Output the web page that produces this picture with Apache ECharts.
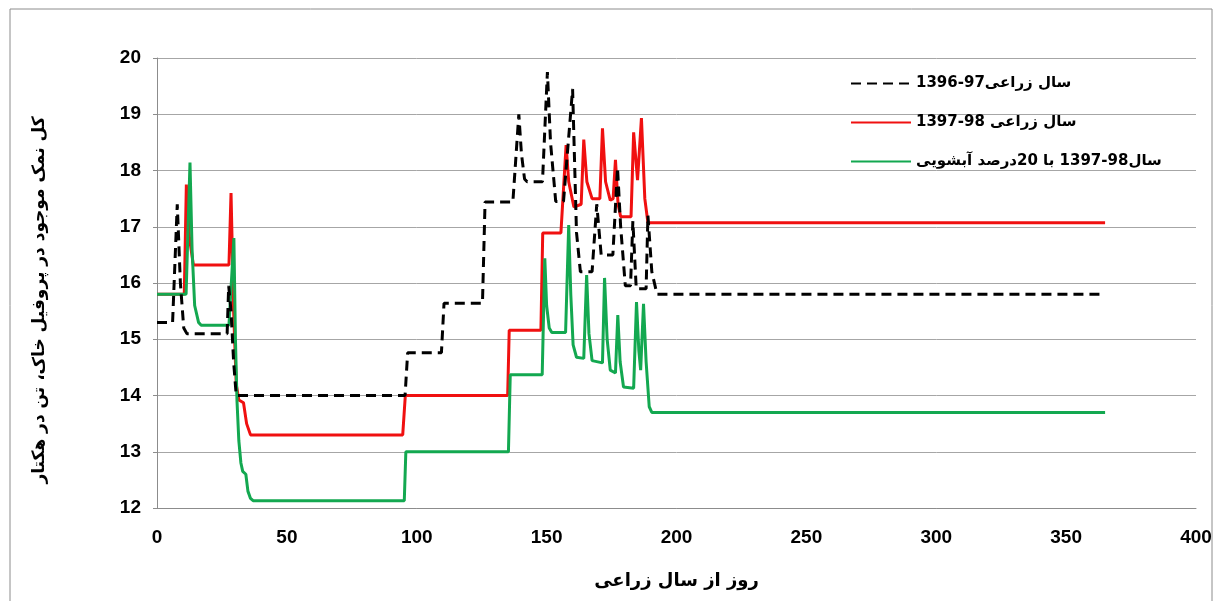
<!DOCTYPE html>
<html>
<head>
<meta charset="utf-8">
<title>salt profile</title>
<script src="https://cdn.jsdelivr.net/npm/echarts@6.0.0/dist/echarts.min.js"></script>
<style>
  html, body { margin: 0; padding: 0; background: #ffffff; }
  #chart { width: 1222px; height: 601px; }
</style>
</head>
<body>
<div id="chart"></div>
<script>
// axis ticks
const xTicks = [0, 50, 100, 150, 200, 250, 300, 350, 400]
const yTicks = [12, 13, 14, 15, 16, 17, 18, 19, 20]

// series names (RLE ... PDF keeps the persian text right-to-left on canvas)
const rtl = s => '\u202B' + s + '\u202C'
const seriesNames = [
  rtl('سال زراعی97-1396'),
  rtl('سال زراعی 98-1397'),
  rtl('سال98-1397 با 20درصد آبشویی')
]
const xTitle = rtl('روز از سال زراعی')
const yTitle = rtl('کل نمک موجود در پروفیل خاک، تن در هکتار')

// 1396-97 (black dashed)
const days1396 = [0, 6, 7.8, 9, 10.3, 11.5, 27, 27.6, 28.5, 29.5, 30.5, 95.5, 96.5, 109.5, 110.5, 125.3, 126.3,
  137, 139.3, 140.3, 141.5, 142.5, 148.4, 150.3, 151.5, 153.5, 156.5, 160, 161.5, 163, 167.5, 169.3, 171,
  175.5, 177.3, 178.5, 180.3, 182.3, 183.2, 184.5, 188.3, 189, 190.5, 192.5, 365]
const salt1396 = [15.3, 15.3, 17.4, 16.0, 15.2, 15.1, 15.1, 15.95, 15.5, 14.6, 14.0, 14.0, 14.76, 14.76, 15.64, 15.64, 17.44,
  17.44, 19.0, 18.3, 17.85, 17.8, 17.8, 19.75, 18.5, 17.45, 17.45, 19.45, 16.9, 16.2, 16.2, 17.4, 16.5,
  16.5, 18.05, 17.0, 15.95, 15.95, 17.1, 15.9, 15.9, 17.2, 16.2, 15.8, 15.8]

// 1397-98 (red)
const days1397 = [0, 10.5, 11.3, 12.5, 14, 27.7, 28.5, 29.5, 30.5, 31.5, 33.3, 34.5, 36, 94.6, 95.6, 135, 135.6,
  147.8, 148.5, 155.5, 157.5, 158.5, 160.5, 163.3, 164.3, 165.5, 167.5, 170.5, 171.5, 172.7, 174.5, 175.6,
  176.5, 177.5, 178.5, 182.5, 183.5, 185, 186.5, 187.8, 189, 365]
const salt1397 = [15.8, 15.8, 17.75, 16.8, 16.32, 16.32, 17.6, 15.5, 14.2, 13.92, 13.87, 13.5, 13.3, 13.3, 14.0, 14.0, 15.16,
  15.16, 16.89, 16.89, 18.45, 17.8, 17.35, 17.4, 18.55, 17.8, 17.5, 17.5, 18.75, 17.8, 17.47, 17.5,
  18.19, 17.4, 17.18, 17.18, 18.68, 17.83, 18.93, 17.5, 17.07, 17.07]

// 1397-98 with 20% leaching (green)
const daysLeach = [0, 11.2, 12.7, 13.5, 14.5, 16, 17, 27.7, 29.6, 30.2, 30.8, 31.5, 32.3, 33, 34.2, 35, 36, 37,
  95.2, 95.8, 135.3, 136, 148.3, 149.3, 150, 151, 152, 157.3, 158.5, 159.3, 160.2, 161.5, 164.3, 165.4,
  166.3, 167.5, 171.5, 172.3, 173.3, 174.5, 176.5, 177.4, 178.3, 179.6, 183.5, 184.6, 185.5, 186.2, 187.3,
  188.3, 189.5, 190.5, 365]
const saltLeach = [15.8, 15.8, 18.14, 16.6, 15.6, 15.3, 15.25, 15.25, 16.8, 15.0, 13.9, 13.2, 12.8, 12.65, 12.6, 12.3, 12.17, 12.13,
  12.13, 13.0, 13.0, 14.37, 14.37, 16.44, 15.6, 15.2, 15.12, 15.12, 17.03, 15.8, 14.9, 14.68, 14.66, 16.14,
  15.1, 14.62, 14.58, 16.09, 15.0, 14.45, 14.4, 15.43, 14.6, 14.15, 14.13, 15.66, 14.8, 14.45, 15.63,
  14.6, 13.8, 13.7, 13.7]

const zip = (xs, ys) => xs.map((d, i) => [d, ys[i]])

const chart = echarts.init(document.getElementById('chart'))

const labelFont = {
  color: '#000',
  fontSize: 19,
  fontWeight: 'bold',
  fontFamily: 'Liberation Sans'
}
const faFont = {
  color: '#000',
  fontWeight: 'bold',
  fontFamily: 'DejaVu Sans'
}

const option = {
  animation: false,
  backgroundColor: '#fff',
  grid: {
    left: 157,
    right: 26,
    top: 58,
    bottom: 93
  },
  legend: {
    orient: 'vertical',
    left: 845,
    top: 71,
    itemWidth: 60,
    itemHeight: 14,
    itemGap: 24,
    data: seriesNames,
    // line only, hide the symbol on the legend line
    itemStyle: { opacity: 0 },
    textStyle: { ...faFont, fontSize: 15 }
  },
  graphic: [
    // outer frame
    {
      type: 'rect',
      shape: { x: 10, y: 9, width: 1202, height: 620 },
      style: { fill: null, stroke: '#8c8c8c', lineWidth: 1 },
      silent: true
    },
    // y title
    {
      type: 'text',
      x: 40,
      y: 300,
      rotation: Math.PI / 2,
      style: {
        text: yTitle,
        ...faFont,
        fontSize: 17,
        align: 'center',
        verticalAlign: 'middle'
      }
    }
  ],
  xAxis: {
    type: 'value',
    min: xTicks[0],
    max: xTicks[xTicks.length - 1],
    interval: xTicks[1] - xTicks[0],
    name: xTitle,
    nameLocation: 'middle',
    nameGap: 64,
    nameTextStyle: { ...faFont, fontSize: 18 },
    axisLine: { show: true, lineStyle: { color: '#8c8c8c', width: 1 } },
    axisTick: { show: false },
    splitLine: { show: false },
    axisLabel: { ...labelFont, margin: 20 }
  },
  yAxis: {
    type: 'value',
    min: yTicks[0],
    max: yTicks[yTicks.length - 1],
    interval: yTicks[1] - yTicks[0],
    axisLine: { show: true, lineStyle: { color: '#8c8c8c', width: 1 } },
    axisTick: { show: true, length: 4, lineStyle: { color: '#8c8c8c' } },
    splitLine: { show: true, lineStyle: { color: '#a6a6a6', width: 1 } },
    axisLabel: { ...labelFont, margin: 16 }
  },
  series: [
    {
      name: seriesNames[0],
      type: 'line',
      symbol: 'none',
      data: zip(days1396, salt1396),
      itemStyle: { color: '#000' },
      lineStyle: { color: '#000', width: 3, type: [10, 6] },
      z: 3
    },
    {
      name: seriesNames[1],
      type: 'line',
      symbol: 'none',
      data: zip(days1397, salt1397),
      itemStyle: { color: '#f01010' },
      lineStyle: { color: '#f01010', width: 3 },
      z: 2
    },
    {
      name: seriesNames[2],
      type: 'line',
      symbol: 'none',
      data: zip(daysLeach, saltLeach),
      itemStyle: { color: '#13a850' },
      lineStyle: { color: '#13a850', width: 3 },
      z: 2
    }
  ]
}

chart.setOption(option)
</script>
</body>
</html>
